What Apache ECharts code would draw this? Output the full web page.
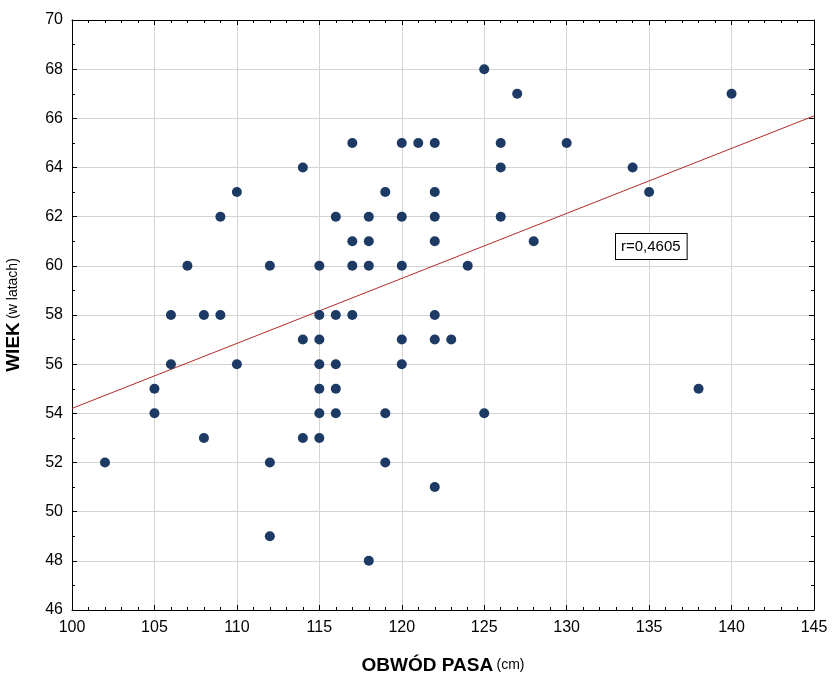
<!DOCTYPE html>
<html>
<head>
<meta charset="utf-8">
<script src="https://cdn.jsdelivr.net/npm/echarts@6/dist/echarts.min.js"></script>
<style>
  html, body { margin: 0; padding: 0; background: #fff; }
  #chart { width: 834px; height: 682px; }
</style>
</head>
<body>
<div id="chart"></div>
<script>
// obwod pasa (cm) i wiek (lata) - punkty
var waist = [102, 105, 105, 106, 106, 107, 108, 108, 109, 109, 110, 110,
  112, 112, 112, 114, 114, 114,
  115, 115, 115, 115, 115, 115, 115,
  116, 116, 116, 116, 116,
  117, 117, 117, 117,
  118, 118, 118, 118,
  119, 119, 119,
  120, 120, 120, 120, 120,
  121,
  122, 122, 122, 122, 122, 122, 122,
  123, 124, 125, 125, 126, 126, 126, 127, 128, 130, 134, 135, 138, 140];
var age = [52, 55, 54, 58, 56, 60, 58, 53, 62, 58, 63, 56,
  60, 52, 49, 64, 57, 53,
  60, 58, 57, 56, 55, 54, 53,
  62, 58, 56, 55, 54,
  65, 61, 60, 58,
  62, 61, 60, 48,
  63, 54, 52,
  65, 62, 60, 57, 56,
  65,
  65, 63, 62, 61, 58, 57, 51,
  57, 60, 68, 54, 65, 64, 62, 67, 61, 65, 64, 63, 55, 67];
// linia regresji - konce
var fitX = [100, 145];
var fitY = [54.2, 66.1];
var rLabel = 'r=0,4605';

var font = '"Liberation Sans Narrow", "Liberation Sans", Arial, sans-serif';

var points = [];
for (var i = 0; i < waist.length; i++) {
  points.push([waist[i], age[i]]);
}
var fitLine = [];
for (var j = 0; j < fitX.length; j++) {
  fitLine.push([fitX[j], fitY[j]]);
}

var chart = echarts.init(document.getElementById('chart'));

function frameAxis(pos, extra) {
  var a = {
    type: 'value',
    position: pos,
    axisLine: { show: true, onZero: false, lineStyle: { color: '#000', width: 1 } },
    axisTick: { show: true, inside: true, length: 5, lineStyle: { color: '#000' } },
    axisLabel: { show: false },
    splitLine: { show: false }
  };
  for (var k in extra) a[k] = extra[k];
  return a;
}

var option = {
  animation: false,
  backgroundColor: '#fff',
  grid: { left: 72, right: 20, top: 20, bottom: 72, containLabel: false, outerBoundsMode: 'none' },
  xAxis: [
    frameAxis('bottom', {
      min: 100, max: 145, interval: 5,
      minorTick: { show: true, splitNumber: 5, length: 3, lineStyle: { color: '#000' } },
      axisLabel: { show: true, color: '#000', fontFamily: font, fontSize: 16, margin: 10 },
      splitLine: { show: true, lineStyle: { color: '#d4d4d4', width: 1 } },
      name: '{b|OBWÓD PASA} {s|(cm)}',
      nameLocation: 'middle',
      nameGap: 46,
      nameTextStyle: {
        rich: {
          b: { fontFamily: font, fontWeight: 'bold', fontSize: 19, color: '#000' },
          s: { fontFamily: font, fontSize: 14, color: '#000' }
        }
      }
    }),
    frameAxis('top', {
      min: 100, max: 145, interval: 5,
      minorTick: { show: true, splitNumber: 5, length: 3, lineStyle: { color: '#000' } }
    })
  ],
  yAxis: [
    frameAxis('left', {
      min: 46, max: 70, interval: 2,
      minorTick: { show: true, splitNumber: 2, length: 3, lineStyle: { color: '#000' } },
      axisLabel: { show: true, color: '#000', fontFamily: font, fontSize: 16, margin: 9 },
      splitLine: { show: true, lineStyle: { color: '#d4d4d4', width: 1 } },
      name: '{b|WIEK} {s|(w latach)}',
      nameLocation: 'middle',
      nameGap: 49,
      nameTextStyle: {
        rich: {
          b: { fontFamily: font, fontWeight: 'bold', fontSize: 19, color: '#000' },
          s: { fontFamily: font, fontSize: 14, color: '#000' }
        }
      }
    }),
    frameAxis('right', {
      min: 46, max: 70, interval: 2,
      minorTick: { show: true, splitNumber: 2, length: 3, lineStyle: { color: '#000' } }
    })
  ],
  series: [
    {
      type: 'line',
      data: fitLine,
      showSymbol: false,
      symbol: 'none',
      lineStyle: { color: '#b22a2a', width: 1 },
      z: 2
    },
    {
      type: 'scatter',
      data: points,
      symbol: 'circle',
      symbolSize: 10,
      itemStyle: { color: '#1d3a64', opacity: 1 },
      z: 3
    }
  ],
  graphic: [
    {
      type: 'text',
      left: 615,
      top: 233,
      style: {
        text: rLabel,
        fontFamily: font,
        fontSize: 15,
        fill: '#000',
        backgroundColor: '#fff',
        borderColor: '#000',
        borderWidth: 1,
        padding: [5, 6, 5, 5]
      },
      z: 10
    }
  ]
};

chart.setOption(option);
</script>
</body>
</html>
